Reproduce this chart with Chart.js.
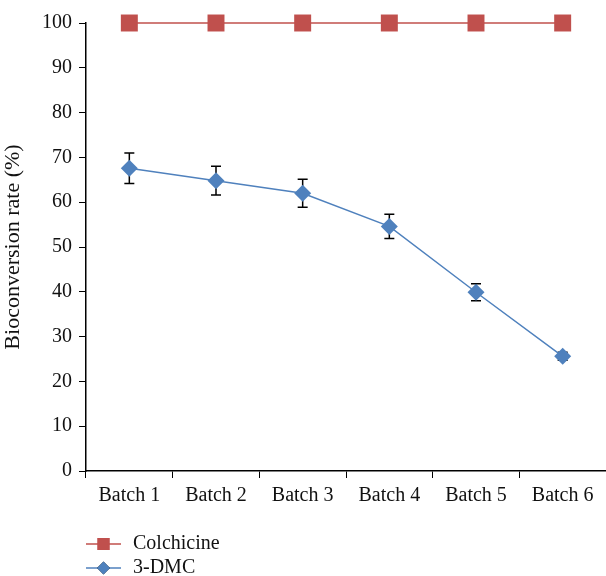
<!DOCTYPE html>
<html lang="en">
<head>
  <meta charset="UTF-8">
  <title>Bioconversion rate</title>
  <script src="https://cdn.jsdelivr.net/npm/chart.js"></script>
  <style>
    html, body { margin: 0; padding: 0; background: #fff; overflow: hidden; }
    canvas { display: block; }
  </style>
</head>
<body>
  <canvas id="grafico" width="606" height="576"></canvas>

  <script>
    // Datos
    const categorias = ['Batch 1', 'Batch 2', 'Batch 3', 'Batch 4', 'Batch 5', 'Batch 6'];
    const colchicina = [100, 100, 100, 100, 100, 100];
    const dmc = [67.6, 64.8, 62.0, 54.6, 39.9, 25.6];
    const dmcError = [3.4, 3.2, 3.1, 2.7, 1.9, 0.9];
    const ticksY = [0, 10, 20, 30, 40, 50, 60, 70, 80, 90, 100];

    const ROJO = '#C0504D';
    const AZUL = '#4F81BD';
    const FUENTE = "'Liberation Serif', 'DejaVu Serif', serif";

    Chart.defaults.font.family = FUENTE;
    Chart.defaults.font.size = 20;
    Chart.defaults.color = '#111';

    // los marcadores grandes no deben encoger el area del grafico
    Chart.controllers.line.prototype.getMaxOverflow = function () { return 0; };

    // Barras de error del 3-DMC
    const barrasError = {
      id: 'barrasError',
      beforeDatasetsDraw(chart) {
        const { ctx, scales: { x, y } } = chart;
        ctx.save();
        ctx.strokeStyle = '#000';
        ctx.lineWidth = 1.5;
        dmc.forEach((v, i) => {
          const px = x.getPixelForValue(i);
          const yTop = y.getPixelForValue(v + dmcError[i]);
          const yBot = y.getPixelForValue(v - dmcError[i]);
          ctx.beginPath();
          ctx.moveTo(px, yTop); ctx.lineTo(px, yBot);
          ctx.moveTo(px - 5, yTop); ctx.lineTo(px + 5, yTop);
          ctx.moveTo(px - 5, yBot); ctx.lineTo(px + 5, yBot);
          ctx.stroke();
        });
        ctx.restore();
      }
    };

    // Leyenda apilada abajo a la izquierda
    const leyenda = {
      id: 'leyenda',
      afterDraw(chart) {
        const { ctx } = chart;
        const x0 = chart.chartArea.left;
        const filas = [
          { ds: chart.data.datasets[0], y: 544, r: 8.5 },
          { ds: chart.data.datasets[1], y: 568, r: 6.5 }
        ];
        ctx.save();
        filas.forEach(f => {
          ctx.strokeStyle = f.ds.borderColor;
          ctx.lineWidth = 1.5;
          ctx.beginPath();
          ctx.moveTo(x0, f.y); ctx.lineTo(x0 + 35, f.y);
          ctx.stroke();
          Chart.helpers.drawPoint(ctx, {
            pointStyle: f.ds.pointStyle, radius: f.r, borderWidth: 0
          }, x0 + 17.5, f.y);
          ctx.fillStyle = f.ds.pointBackgroundColor;
          ctx.fill();
          ctx.fillStyle = '#111';
          ctx.font = '20px ' + FUENTE;
          ctx.textBaseline = 'middle';
          ctx.fillText(f.ds.label, x0 + 47, f.y);
        });
        ctx.restore();
      }
    };

    new Chart(document.getElementById('grafico'), {
      type: 'line',
      data: {
        labels: categorias,
        datasets: [
          {
            label: 'Colchicine',
            data: colchicina,
            borderColor: ROJO,
            borderWidth: 1.5,
            pointStyle: 'rect',
            pointRadius: 12,
            pointBackgroundColor: ROJO,
            pointBorderWidth: 0,
            clip: false
          },
          {
            label: '3-DMC',
            data: dmc,
            borderColor: AZUL,
            borderWidth: 1.5,
            pointStyle: 'rectRot',
            pointRadius: 8.5,
            pointBackgroundColor: AZUL,
            pointBorderWidth: 0,
            clip: false
          }
        ]
      },
      options: {
        responsive: false,
        animation: false,
        layout: { padding: { top: 23, right: 0, bottom: 0, left: 0 } },
        plugins: {
          legend: { display: false },
          tooltip: { enabled: false }
        },
        scales: {
          x: {
            offset: true,
            grid: { offset: true, drawOnChartArea: false, drawTicks: true, tickLength: 7, color: '#000' },
            border: { display: true, color: '#000', width: 1.5 },
            ticks: { padding: 6, maxRotation: 0 },
            afterFit(s) { s.height = 105; s.paddingLeft = 0; s.paddingRight = 0; }
          },
          y: {
            min: 0,
            max: 100,
            afterBuildTicks(s) { s.ticks = ticksY.map(v => ({ value: v })); },
            grid: { drawOnChartArea: false, drawTicks: true, tickLength: 7, color: '#000' },
            border: { display: true, color: '#000', width: 1.5 },
            ticks: { padding: 7 },
            title: { display: true, text: 'Bioconversion rate (%)', font: { size: 22 }, padding: { top: 0, bottom: 3 } },
            afterFit(s) { s.width = 86; }
          }
        }
      },
      plugins: [barrasError, leyenda]
    });
  </script>
</body>
</html>
